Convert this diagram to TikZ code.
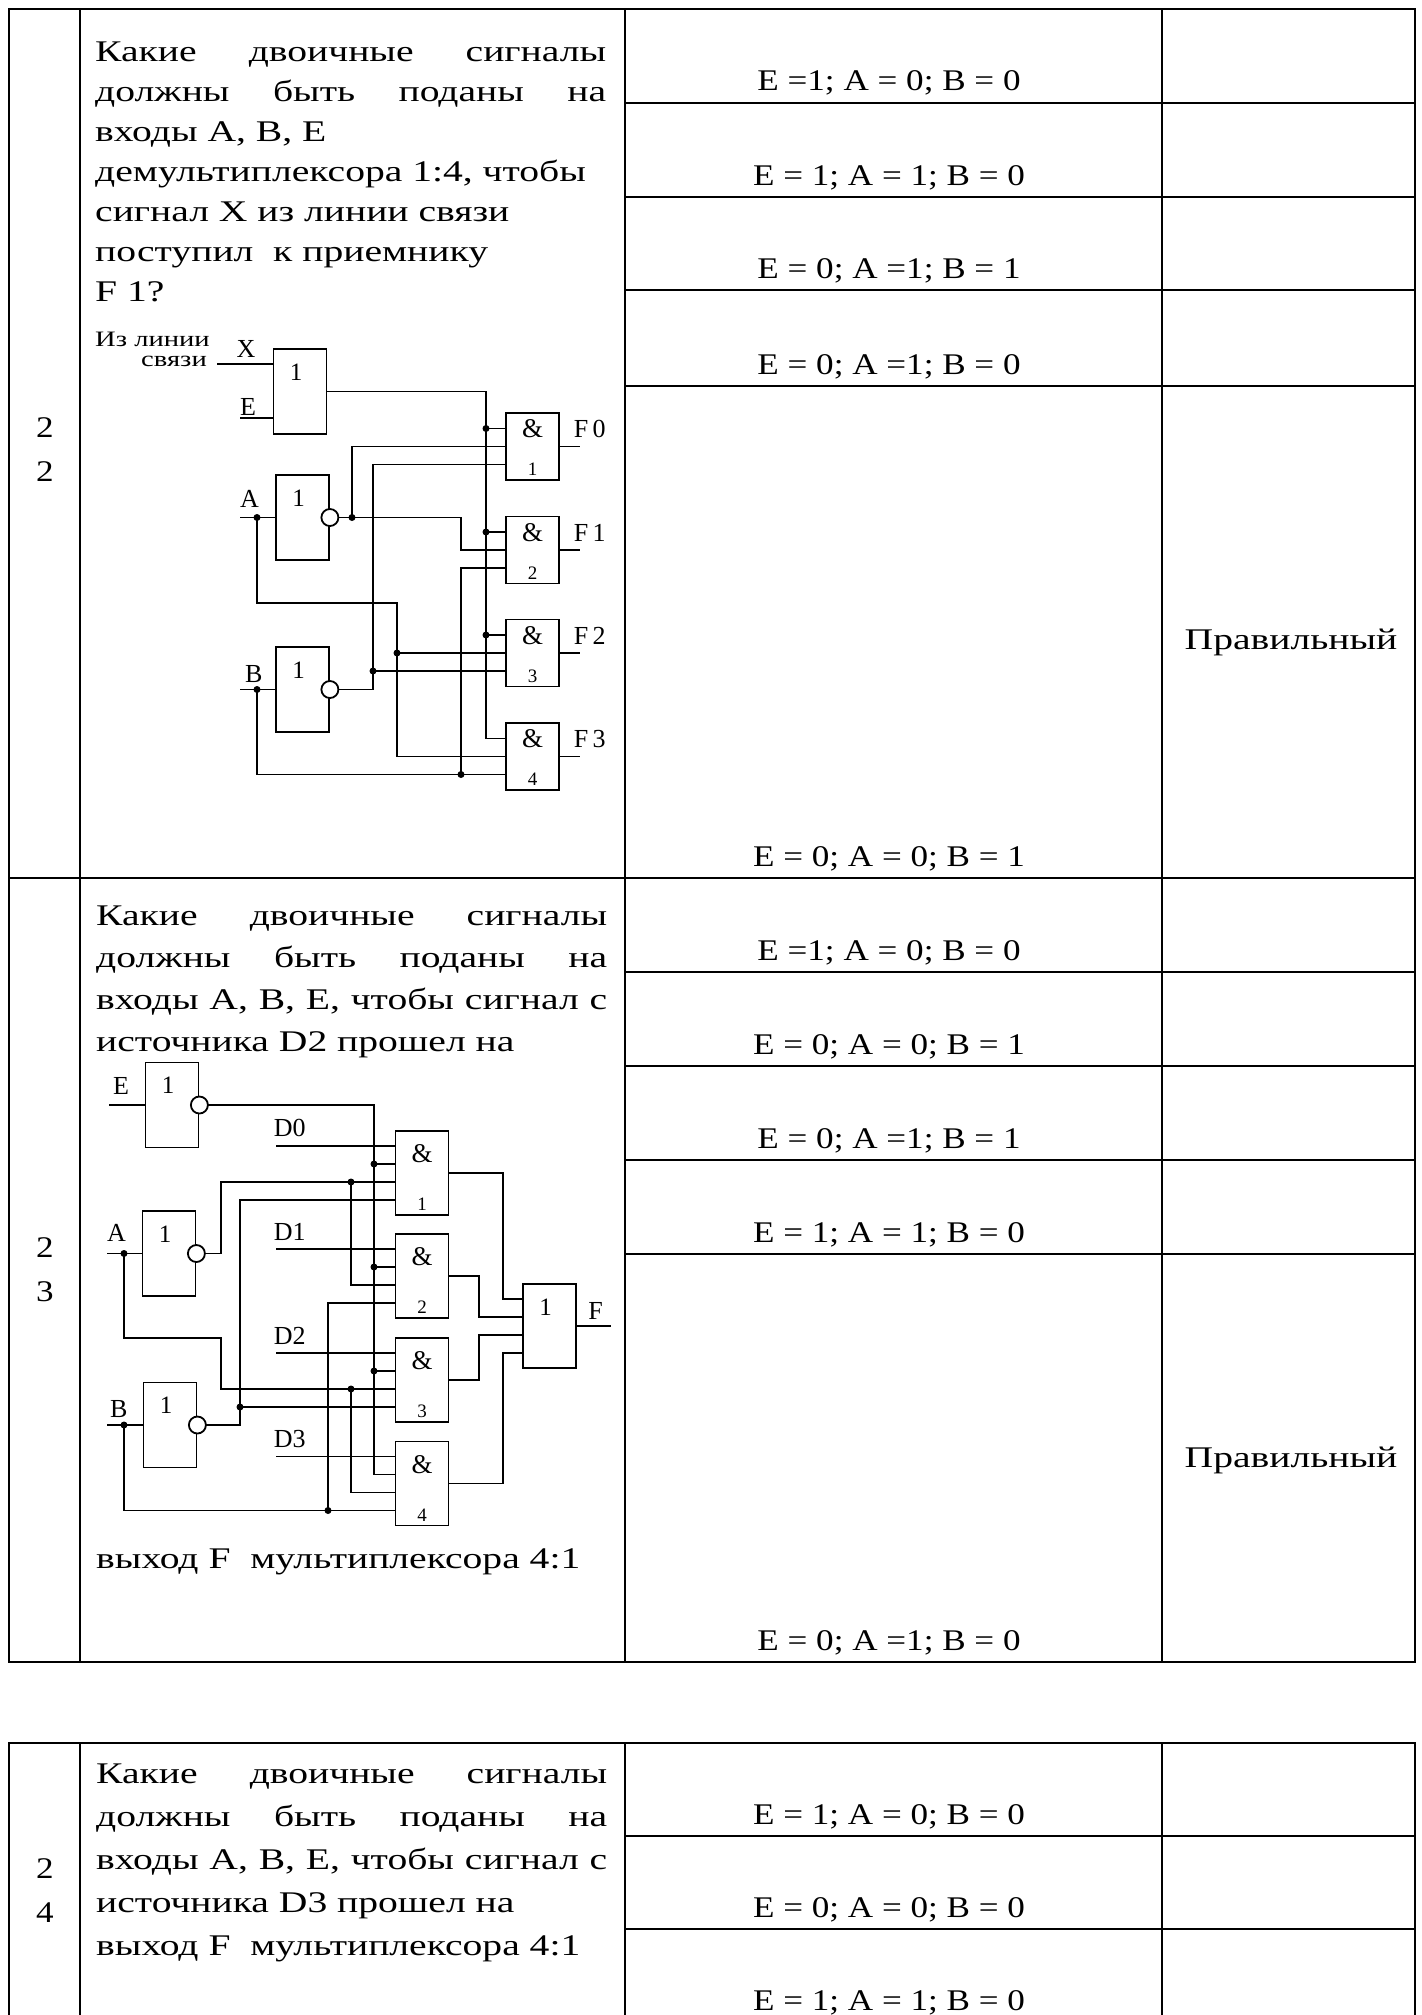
\documentclass[tikz,border=0pt]{standalone}
\usepackage{fontspec}
\setmainfont{Liberation Serif}
\newfontfamily\qfont[FakeStretch=1.32]{Liberation Serif}
\newfontfamily\afont[FakeStretch=1.17]{Liberation Serif}
\newfontfamily\wfont[FakeStretch=1.3]{Liberation Serif}
\newfontfamily\cfont{Liberation Serif}

\begin{document}
\begin{tikzpicture}[x=1pt,y=-1pt,
  tline/.style={line width=2.2pt},
  wire/.style={line width=1.8pt},
  gate/.style={draw, line width=1.8pt, inner sep=0pt, minimum width=53pt, minimum height=85pt},
  one/.style={label={[anchor=north, inner sep=0pt, xshift=-4pt, yshift=-15.5pt, font=\cfont\fontsize{25}{25}\selectfont]north:1}},
  amp/.style={anchor=north, inner sep=0pt, font=\cfont\fontsize{27}{27}\selectfont},
  num/.style={anchor=south, inner sep=0pt, yshift=5pt, font=\cfont\fontsize{19}{19}\selectfont},
  dmand/.style={gate, minimum height=67pt, label={[amp, yshift=-7.5pt]north:\&}, label={[num]south:#1}},
  mxand/.style={gate, minimum height=84pt, label={[amp, yshift=-14.5pt]north:\&}, label={[num]south:#1}},
  clab/.style={inner sep=0pt, font=\cfont\fontsize{26}{26}\selectfont},
  qtext/.style={inner sep=0pt, anchor=base west, text width=511pt, align=justify, font=\qfont\fontsize{30}{40}\selectfont},
  ans/.style={inner sep=0pt, anchor=base, font=\afont\fontsize{30}{36}\selectfont},
]
\useasboundingbox (0,0) rectangle (1421,2015);

% table frames
\draw[tline] (9,9) rectangle (1415,1662);
\foreach \x in {80,625,1162} \draw[tline] (\x,9) -- (\x,1662);
\draw[tline] (9,878) -- (1415,878);
\foreach \y in {103,197,290,386,972,1066,1160,1254} \draw[tline] (625,\y) -- (1415,\y);
\draw[tline] (9,2030) -- (9,1743) -- (1415,1743) -- (1415,2030);
\foreach \x in {80,625,1162} \draw[tline] (\x,1743) -- (\x,2030);
\foreach \y in {1836,1929} \draw[tline] (625,\y) -- (1415,\y);

% row numbers
\node[ans] (n22a) at (45,437) {2};
\node[ans] (n22b) at (45,481) {2};
\node[ans] (n23a) at (45,1257) {2};
\node[ans] (n23b) at (45,1301) {3};
\node[ans] (n24a) at (45,1878) {2};
\node[ans] (n24b) at (45,1922) {4};

% questions
\node[qtext] (q22) at (95,62) {Какие двоичные сигналы\linebreak должны быть поданы на\linebreak входы A, B, E\\ демультиплексора 1:4, чтобы\\ сигнал X из линии связи\\ поступил~ к приемнику\\ F 1?};
\node[qtext, font=\qfont\fontsize{30}{42}\selectfont] (q23) at (96,925) {Какие двоичные сигналы\linebreak должны быть поданы на\linebreak входы A, B, E, чтобы сигнал с\linebreak источника D2 прошел на};
\node[qtext] (q23b) at (96,1568) {выход F~ мультиплексора 4:1};
\node[qtext, font=\qfont\fontsize{30}{43}\selectfont] (q24) at (96,1783) {Какие двоичные сигналы\linebreak должны быть поданы на\linebreak входы A, B, E, чтобы сигнал с\linebreak источника D3 прошел на\\ выход F~ мультиплексора 4:1};

% answers
\foreach \y/\t [count=\i] in {91/{E =1; A = 0; B = 0}, 185/{E = 1; A = 1; B = 0}, 278/{E = 0; A =1; B = 1}, 374/{E = 0; A =1; B = 0}, 866/{E = 0; A = 0; B = 1}}
  \node[ans] (a22\i) at (889,\y) {\t};
\foreach \y/\t [count=\i] in {960/{E =1; A = 0; B = 0}, 1054/{E = 0; A = 0; B = 1}, 1148/{E = 0; A =1; B = 1}, 1242/{E = 1; A = 1; B = 0}, 1650/{E = 0; A =1; B = 0}}
  \node[ans] (a23\i) at (889,\y) {\t};
\foreach \y/\t [count=\i] in {1824/{E = 1; A = 0; B = 0}, 1917/{E = 0; A = 0; B = 0}, 2010/{E = 1; A = 1; B = 0}}
  \node[ans] (a24\i) at (889,\y) {\t};
\node[ans, font=\qfont\fontsize{30}{36}\selectfont] (ok22) at (1291,649) {Правильный};
\node[ans, font=\qfont\fontsize{30}{36}\selectfont] (ok23) at (1291,1467) {Правильный};

% demultiplexer 1:4
\node[gate, one] (dmor) at (300,391.5) {};
\node[gate, one] (dminva) at (302.5,517.5) {};
\node[gate, one] (dminvb) at (302.5,689.5) {};
\foreach \g/\y in {1/446.5, 2/550, 3/653, 4/756.5}
  \node[dmand=\g] (dm\g) at (532.5,\y) {};
\foreach \g in {1,...,4}{
  \coordinate (dm\g i1) at ([yshift=18pt]dm\g.west);
  \coordinate (dm\g i2) at (dm\g.west);
  \coordinate (dm\g i3) at ([yshift=-18pt]dm\g.west);
}
\node[inner sep=0pt, anchor=east, font=\wfont\fontsize{22}{22}\selectfont] (src1) at (210,339) {Из линии};
\node[inner sep=0pt, anchor=east, font=\wfont\fontsize{22}{22}\selectfont] (src2) at (207,361) {связи};
\coordinate (xin) at (217,364);
\coordinate (ein) at (240,418);
\coordinate (ain) at (240,517.5);
\coordinate (bin) at (240,689.5);
\coordinate (adot) at (257,517.5);
\coordinate (bdot) at (257,689.5);
\coordinate (busx) at (486,0);
\coordinate (ax) at (397,603);
\coordinate (nax) at (352,0);
\coordinate (nbx) at (373,0);
\coordinate (colx) at (461,0);
\node[clab, anchor=south] (xl) at (246,358) {X};
\node[clab, anchor=south west] (el) at (240,416) {E};
\node[clab, anchor=south west] (al) at (240,508) {A};
\node[clab, anchor=south west] (bl) at (245,683) {B};
\draw[wire] (xin) -- (xin -| dmor.west);
\draw[wire] (ein) -- (ein -| dmor.west);
\draw[wire] (dmor.east) -| (busx |- dm4i1) -- (dm4i1); % strobe bus
\foreach \g in {1,2,3}{
  \draw[wire] (busx |- dm\g i1) -- (dm\g i1);
  \fill (busx |- dm\g i1) circle[radius=3.5pt];
}
\draw[wire] (ain) -- (dminva.west);
\fill (adot) circle[radius=3.5pt];
\draw[wire] (adot) |- (ax) |- (dm4i2);
\draw[wire] (ax |- dm3i2) -- (dm3i2);
\fill (ax |- dm3i2) circle[radius=3.5pt];
\draw[wire, fill=white] (dminva.east) circle[radius=8.5pt];
\draw[wire] ([xshift=8.5pt]dminva.east) -| (colx |- dm2i2) -- (dm2i2);
\draw[wire] (nax |- dminva.east) |- (dm1i2);
\fill (nax |- dminva.east) circle[radius=3.5pt];
\draw[wire] (bin) -- (dminvb.west);
\fill (bdot) circle[radius=3.5pt];
\draw[wire] (bdot) |- (dm4i3);
\draw[wire] (colx |- dm4i3) |- (dm2i3);
\fill (colx |- dm4i3) circle[radius=3.5pt];
\draw[wire, fill=white] (dminvb.east) circle[radius=8.5pt];
\draw[wire] ([xshift=8.5pt]dminvb.east) -| (nbx |- dm1i3) -- (dm1i3);
\draw[wire] (nbx |- dm3i3) -- (dm3i3);
\fill (nbx |- dm3i3) circle[radius=3.5pt];
\foreach \g/\f in {1/0,2/1,3/2,4/3}
  \draw[wire] (dm\g.east) -- ++(20,0) node[clab, anchor=south west, xshift=-7pt, yshift=8pt] (f\f) {F\,\f};

% multiplexer 4:1
\node[gate, one] (mxinve) at (172,1105) {};
\node[gate, one] (mxinva) at (169,1253.5) {};
\node[gate, one] (mxinvb) at (170,1425) {};
\foreach \g/\y in {1/1173, 2/1276, 3/1380, 4/1483.5}
  \node[mxand=\g] (mx\g) at (422,\y) {};
\node[gate, one, minimum height=84pt] (mxor) at (549.5,1326) {};
\foreach \g in {1,...,4}{
  \coordinate (mx\g i1) at ([yshift=27pt]mx\g.west);
  \coordinate (mx\g i2) at ([yshift=9pt]mx\g.west);
  \coordinate (mx\g i3) at ([yshift=-9pt]mx\g.west);
  \coordinate (mx\g i4) at ([yshift=-27pt]mx\g.west);
}
\foreach \k/\s in {1/27,2/9,3/-9,4/-27}
  \coordinate (mxo\k) at ([yshift=\s pt]mxor.west);
\coordinate (mein) at (109,1105);
\coordinate (main) at (107,1253.5);
\coordinate (madot) at (124,1253.5);
\coordinate (maturn) at (221,1338);
\coordinate (mbin) at (107,1425);
\coordinate (mbdot) at (124,1425);
\coordinate (nex) at (374,0);
\coordinate (dx) at (276,0);
\coordinate (mnax) at (221,0);
\coordinate (mnbx) at (351,0);
\coordinate (mnbbx) at (240,0);
\coordinate (mbx) at (328,0);
\coordinate (ox1) at (503,0);
\coordinate (ox2) at (479,0);
\node[clab, anchor=south west] (mel) at (113,1095) {E};
\node[clab, anchor=south west] (mal) at (107,1242) {A};
\node[clab, anchor=south west] (mbl) at (110,1418) {B};
\draw[wire] (mein) -- (mxinve.west);
\draw[wire, fill=white] (mxinve.east) circle[radius=8.5pt];
\draw[wire] ([xshift=8.5pt]mxinve.east) -| (nex |- mx4i2) -- (mx4i2);
\foreach \g in {1,2,3}{
  \draw[wire] (nex |- mx\g i2) -- (mx\g i2);
  \fill (nex |- mx\g i2) circle[radius=3.5pt];
}
\foreach \g/\d in {1/0,2/1,3/2,4/3}
  \draw[wire] (dx |- mx\g i1) node[clab, anchor=south west, xshift=-3pt, yshift=8pt] (d\d) {D\d} -- (mx\g i1);
\draw[wire] (main) -- (mxinva.west);
\fill (madot) circle[radius=3.5pt];
\draw[wire, fill=white] (mxinva.east) circle[radius=8.5pt];
\draw[wire] ([xshift=8.5pt]mxinva.east) -| (mnax |- mx1i3) -- (mx1i3);
\draw[wire] (mnbx |- mx1i3) |- (mx2i3);
\fill (mnbx |- mx1i3) circle[radius=3.5pt];
\draw[wire] (madot) |- (maturn) |- (mx3i3);
\draw[wire] (mnbx |- mx3i3) |- (mx4i3);
\fill (mnbx |- mx3i3) circle[radius=3.5pt];
\draw[wire] (mbin) -- (mxinvb.west);
\fill (mbdot) circle[radius=3.5pt];
\draw[wire, fill=white] (mxinvb.east) circle[radius=8.5pt];
\draw[wire] ([xshift=8.5pt]mxinvb.east) -| (mnbbx |- mx1i4) -- (mx1i4);
\draw[wire] (mnbbx |- mx3i4) -- (mx3i4);
\fill (mnbbx |- mx3i4) circle[radius=3.5pt];
\draw[wire] (mbdot) |- (mx4i4);
\draw[wire] (mbx |- mx4i4) |- (mx2i4);
\fill (mbx |- mx4i4) circle[radius=3.5pt];
\draw[wire] (mx1.east) -| (ox1 |- mxo1) -- (mxo1);
\draw[wire] (mx2.east) -| (ox2 |- mxo2) -- (mxo2);
\draw[wire] (mx3.east) -| (ox2 |- mxo3) -- (mxo3);
\draw[wire] (mx4.east) -| (ox1 |- mxo4) -- (mxo4);
\draw[wire] (mxor.east) -- ++(34,0) node[clab, pos=0.55, above=6pt] (fout) {F};
\end{tikzpicture}
\end{document}
